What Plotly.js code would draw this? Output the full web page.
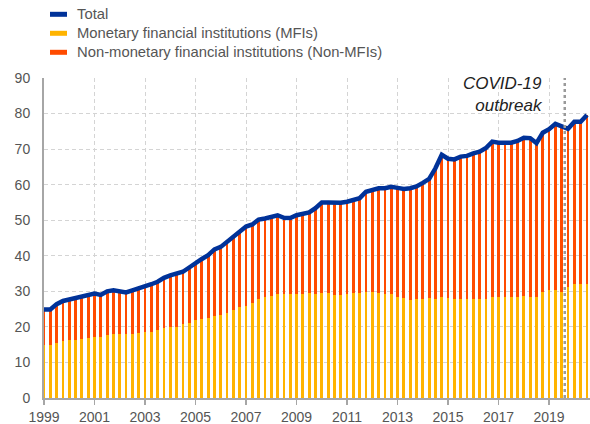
<!DOCTYPE html>
<html><head><meta charset="utf-8">
<script src="https://cdn.plot.ly/plotly-3.0.1.min.js"></script>
<style>html,body{margin:0;padding:0;background:#fff}#chart{width:590px;height:424px}</style>
</head><body><div id="chart"></div>
<script>
const quarters = [
"1999Q1","1999Q2","1999Q3","1999Q4","2000Q1","2000Q2","2000Q3","2000Q4",
"2001Q1","2001Q2","2001Q3","2001Q4","2002Q1","2002Q2","2002Q3","2002Q4",
"2003Q1","2003Q2","2003Q3","2003Q4","2004Q1","2004Q2","2004Q3","2004Q4",
"2005Q1","2005Q2","2005Q3","2005Q4","2006Q1","2006Q2","2006Q3","2006Q4",
"2007Q1","2007Q2","2007Q3","2007Q4","2008Q1","2008Q2","2008Q3","2008Q4",
"2009Q1","2009Q2","2009Q3","2009Q4","2010Q1","2010Q2","2010Q3","2010Q4",
"2011Q1","2011Q2","2011Q3","2011Q4","2012Q1","2012Q2","2012Q3","2012Q4",
"2013Q1","2013Q2","2013Q3","2013Q4","2014Q1","2014Q2","2014Q3","2014Q4",
"2015Q1","2015Q2","2015Q3","2015Q4","2016Q1","2016Q2","2016Q3","2016Q4",
"2017Q1","2017Q2","2017Q3","2017Q4","2018Q1","2018Q2","2018Q3","2018Q4",
"2019Q1","2019Q2","2019Q3","2019Q4","2020Q1","2020Q2","2020Q3"];

const mfi = [
14.8,14.8,15.5,16.0,16.2,16.3,16.5,16.9,
17.2,17.2,17.6,17.9,17.9,17.9,18.1,18.3,
18.6,18.7,19.1,19.6,19.9,20.0,20.8,21.1,
21.9,22.1,22.5,23.0,23.4,23.9,24.7,25.5,
26.0,26.7,27.8,28.3,28.6,29.2,29.2,29.2,
29.2,29.2,29.4,29.2,29.6,29.6,29.1,29.1,
29.2,29.6,29.6,29.8,29.8,29.6,29.2,29.2,
28.5,28.0,27.6,27.9,27.9,28.0,27.9,28.5,
28.0,27.9,27.9,27.9,27.9,27.9,27.9,28.3,
28.3,28.3,28.3,28.5,28.6,28.5,28.5,29.7,
30.3,30.3,29.9,31.1,32.0,32.2,32.2];

const nonMfi = [
10.1,10.1,10.9,11.3,11.5,11.9,12.0,12.1,
12.2,11.8,12.4,12.4,12.2,11.8,12.2,12.5,
12.9,13.3,13.6,14.2,14.6,14.9,14.7,15.6,
16.1,17.0,17.7,18.8,19.1,20.0,20.7,21.4,
22.2,22.1,22.4,22.2,22.4,22.2,21.5,21.4,
22.2,22.6,22.8,24.2,25.4,25.4,25.8,25.8,
26.0,26.1,26.6,28.2,28.7,29.4,29.8,30.2,
30.6,30.8,31.4,31.6,32.6,33.6,36.7,39.9,
39.3,39.2,40.0,40.2,40.9,41.4,42.4,43.8,
43.5,43.5,43.5,43.8,44.6,44.6,43.2,44.9,
45.3,46.8,46.4,44.6,45.7,45.5,47.4];

const total = [
24.9,24.9,26.4,27.3,27.7,28.2,28.5,29.0,
29.4,29.0,30.0,30.3,30.1,29.7,30.3,30.8,
31.5,32.0,32.7,33.8,34.5,34.9,35.5,36.7,
38.0,39.1,40.2,41.8,42.5,43.9,45.4,46.9,
48.2,48.8,50.2,50.5,51.0,51.4,50.7,50.6,
51.4,51.8,52.2,53.4,55.0,55.0,54.9,54.9,
55.2,55.7,56.2,58.0,58.5,59.0,59.0,59.4,
59.1,58.8,59.0,59.5,60.5,61.6,64.6,68.4,
67.3,67.1,67.9,68.1,68.8,69.3,70.3,72.1,
71.8,71.8,71.8,72.3,73.2,73.1,71.7,74.6,
75.6,77.1,76.3,75.7,77.7,77.7,79.6];

const seriesNames = ["Total", "Monetary financial institutions (MFIs)", "Non-monetary financial institutions (Non-MFIs)"];
const seriesColors = ["#003299", "#FFB400", "#FF4B00"];
const xTickVals = [1999, 2001, 2003, 2005, 2007, 2009, 2011, 2013, 2015, 2017, 2019];
const xTickText = ["1999", "2001", "2003", "2005", "2007", "2009", "2011", "2013", "2015", "2017", "2019"];
const yTickVals = [0, 10, 20, 30, 40, 50, 60, 70, 80, 90];
const eventLabel = "COVID-19<br>outbreak";

const toX = q => parseInt(q.slice(0, 4), 10) + (parseInt(q.slice(5), 10) - 1) / 4;
const xs = quarters.map(toX);

const W = 590, H = 424, ML = 44, MR = 0, MT = 78, MB = 26;
const px2paperX = p => (p - ML) / (W - ML - MR);
const px2paperY = p => (H - MB - p) / (H - MT - MB);
const FONT = "Liberation Sans, Arial, sans-serif";

const traces = [
  {type: "bar", x: xs, y: mfi, name: seriesNames[1], marker: {color: seriesColors[1], line: {width: 0}}, width: 0.11, showlegend: false, hoverinfo: "skip"},
  {type: "bar", x: xs, y: nonMfi, name: seriesNames[2], marker: {color: seriesColors[2], line: {width: 0}}, width: 0.11, showlegend: false, hoverinfo: "skip"},
  {type: "scatter", mode: "lines", x: xs, y: total, name: seriesNames[0], line: {color: seriesColors[0], width: 4.5, shape: "linear"}, showlegend: false, hoverinfo: "skip", cliponaxis: false}
];

const shapes = [
  {type: "line", xref: "x", yref: "y", x0: 2019.62, x1: 2019.62, y0: 0, y1: 90, line: {color: "#9a9a9a", width: 2.5, dash: "dot"}, layer: "above"}
];
const legendRows = [14.3, 33.3, 52.3];
const annotations = [
  {xref: "x", yref: "y", x: 2018.85, y: 85.3, xanchor: "right", yanchor: "middle", align: "right", showarrow: false, text: eventLabel, font: {family: FONT, size: 17, color: "#222222", style: "italic"}}
];
const legendOrder = [0, 1, 2];
legendOrder.forEach((s, i) => {
  const cy = legendRows[i];
  shapes.push({type: "rect", xref: "paper", yref: "paper", x0: px2paperX(50), x1: px2paperX(67), y0: px2paperY(cy + 2.5), y1: px2paperY(cy - 2.5), fillcolor: seriesColors[s], line: {width: 0}});
  annotations.push({xref: "paper", yref: "paper", x: px2paperX(75), y: px2paperY(cy), xanchor: "left", yanchor: "middle", showarrow: false, text: seriesNames[s], font: {family: FONT, size: 14.8, color: "#555555"}});
});

const layout = {
  width: W, height: H,
  margin: {l: ML, r: MR, t: MT, b: MB, pad: 0},
  paper_bgcolor: "#ffffff", plot_bgcolor: "#ffffff",
  barmode: "stack", bargap: 0,
  showlegend: false,
  font: {family: FONT, size: 14, color: "#555555"},
  xaxis: {
    type: "linear", range: [1999, 2020.62], tickvals: xTickVals, ticktext: xTickText,
    showgrid: true, gridcolor: "#d4d4d4", gridwidth: 1, griddash: "4px,3px",
    showline: true, linecolor: "#a6a6a6", linewidth: 2,
    ticks: "outside", ticklen: 5, tickcolor: "#a6a6a6", tickwidth: 1.5,
    zeroline: false, automargin: false, fixedrange: true,
    tickfont: {size: 14, color: "#555555"}
  },
  yaxis: {
    range: [0, 90], tickvals: yTickVals,
    showgrid: true, gridcolor: "#d4d4d4", gridwidth: 1, griddash: "4px,3px",
    showline: true, linecolor: "#a6a6a6", linewidth: 2,
    ticks: "", zeroline: false, automargin: false, fixedrange: true,
    ticklabelstandoff: 9,
    tickfont: {size: 14, color: "#555555"}
  },
  shapes: shapes,
  annotations: annotations
};

Plotly.newPlot("chart", traces, layout, {displayModeBar: false, staticPlot: true});
</script>
</body></html>
